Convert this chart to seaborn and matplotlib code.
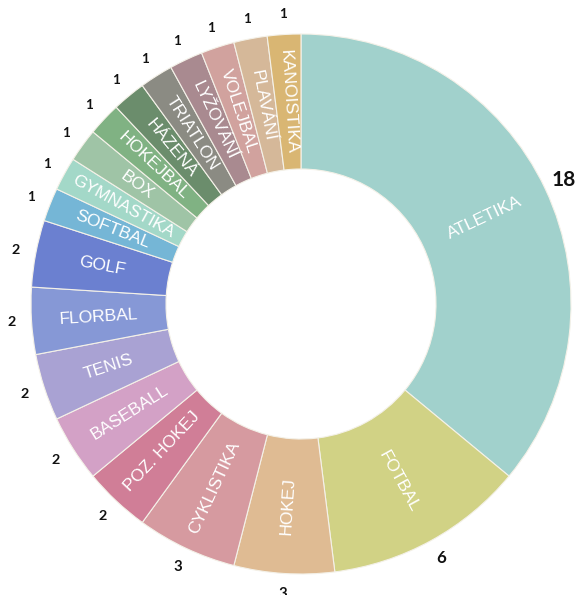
import numpy as np
import matplotlib
matplotlib.use("Agg")
import matplotlib.pyplot as plt
import seaborn as sns

# data, clockwise from 12 o'clock
sports = ["ATLETIKA", "FOTBAL", "HOKEJ", "CYKLISTIKA", "POZ. HOKEJ", "BASEBALL",
          "TENIS", "FLORBAL", "GOLF", "SOFTBAL", "GYMNASTIKA", "BOX", "HOKEJBAL",
          "HÁZENÁ", "TRIATLON", "LYŽOVÁNÍ", "VOLEJBAL", "PLAVÁNÍ", "KANOISTIKA"]
counts = [18, 6, 3, 3, 2, 2, 2, 2, 2, 1, 1, 1, 1, 1, 1, 1, 1, 1, 1]
colors = ["#a1d1cc", "#d1d285", "#dfbb93", "#d69aa0", "#d07e97", "#d3a1c6",
          "#a9a2d3", "#8698d6", "#6b80d0", "#75b6d6", "#a3d8c8", "#9fc4a6",
          "#80b283", "#6b8d6c", "#8b8b83", "#a98a90", "#d1a29e", "#d5b899",
          "#d9b673"]

sns.set_theme(style="white")
palette = sns.color_palette(colors)

fig = plt.figure(figsize=(5.84, 5.95), dpi=100)
ax = fig.add_axes([0, 0, 1, 1])

wedges, _ = ax.pie(counts, colors=palette, startangle=90, counterclock=False,
                   radius=1.0,
                   wedgeprops=dict(width=0.5, edgecolor="#f4f1e8", linewidth=0.8))

for w, name, val in zip(wedges, sports, counts):
    mid = (w.theta1 + w.theta2) / 2.0
    rad = np.deg2rad(mid)
    rot = mid if np.cos(rad) >= 0 else mid - 180
    # slice name inside the ring, along the radius
    ax.text(0.75 * np.cos(rad), 0.75 * np.sin(rad), name, rotation=rot,
            rotation_mode="anchor", ha="center", va="center",
            color="white", fontsize=12.5, family="Liberation Sans")
    # count outside the ring
    ax.text(1.075 * np.cos(rad), 1.075 * np.sin(rad), str(val),
            ha="center", va="center", color="#111111",
            fontsize=8 + 1.65 * np.sqrt(val), fontweight="bold", family="Lato")

ax.set_aspect("auto")
ax.set_xlim(-301 / 270, (584 - 301) / 270)
ax.set_ylim(-(595 - 304) / 270, 304 / 270)
ax.axis("off")

fig.savefig("out.png", dpi=100, facecolor="white")
